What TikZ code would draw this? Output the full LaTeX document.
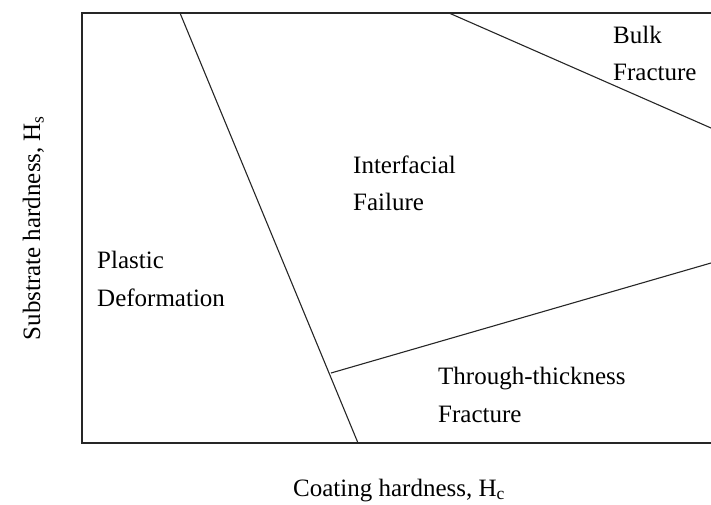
\documentclass[tikz,border=0pt]{standalone}
\usepackage{fontspec}
\setmainfont{Liberation Serif}
\begin{document}
\begin{tikzpicture}[x=1pt,y=-1pt,
  lbl/.style={anchor=base west,inner sep=0pt,font=\fontsize{25}{30}\selectfont},
  axislbl/.style={inner sep=0pt,font=\fontsize{25}{30}\selectfont},
  frame/.style={line width=1.6pt,color=black!85},
  boundary/.style={line width=1.1pt,color=black!85}]
\useasboundingbox (0,0) rectangle (711,504);
% frame (right side cut by the picture edge)
\coordinate (tr) at (711,13);
\coordinate (tl) at (82,13);
\coordinate (bl) at (82,443);
\coordinate (br) at (711,443);
\draw[frame] (tr) -- (tl) -- (bl) -- (br);
% region boundaries
\coordinate (a1) at (180,13);
\coordinate (a2) at (358,443);
\coordinate (j) at (331,373);
\coordinate (b2) at (711,263);
\coordinate (c1) at (449,13);
\coordinate (c2) at (711,128);
\draw[boundary] (a1) -- (a2);
\draw[boundary] (j) -- (b2);
\draw[boundary] (c1) -- (c2);
% region labels
\node[lbl] (bulk) at (613,43) {Bulk};
\node[lbl] (bulkf) at (613,80) {Fracture};
\node[lbl] (inter) at (353,173) {Interfacial};
\node[lbl] (fail) at (353,210) {Failure};
\node[lbl] (plast) at (97,268) {Plastic};
\node[lbl] (deform) at (97,306) {Deformation};
\node[lbl] (thr) at (438,384) {Through-thickness};
\node[lbl] (thrf) at (438,422) {Fracture};
% axis labels
\node[axislbl,anchor=base west] (xl) at (293,496) {Coating hardness, H\textsubscript{c}};
\node[axislbl,anchor=base,rotate=90] (yl) at (40,228) {Substrate hardness, H\textsubscript{s}};
\end{tikzpicture}
\end{document}
